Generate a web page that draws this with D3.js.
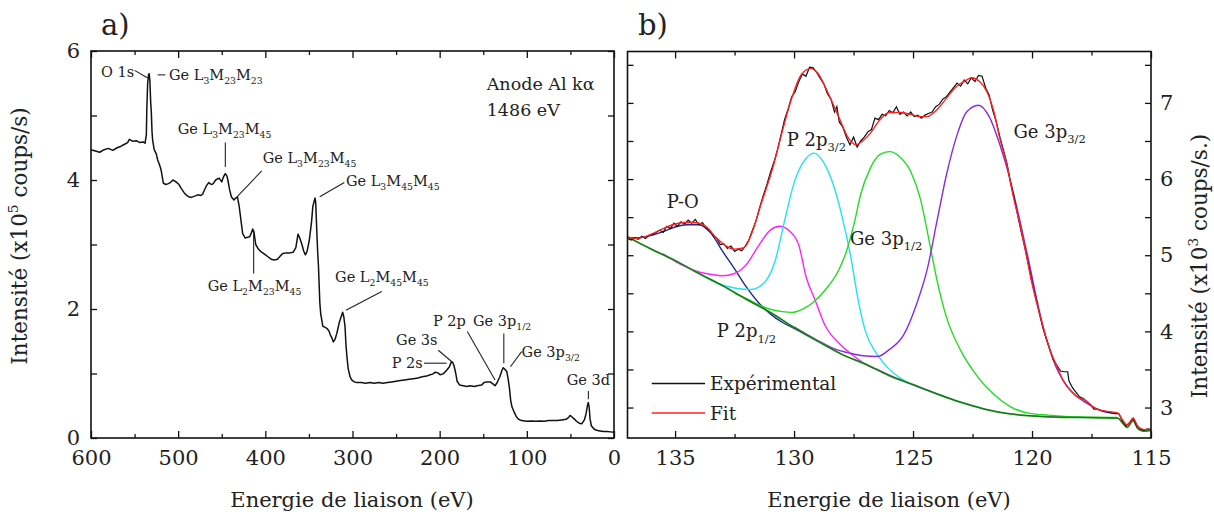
<!DOCTYPE html>
<html><head><meta charset="utf-8">
<script src="https://cdn.jsdelivr.net/npm/d3@7"></script>
<style>
body{margin:0;background:#fff}
svg{display:block}
text{font-family:"DejaVu Serif",serif;fill:#222;white-space:pre}
</style>
</head><body>
<svg id="c" width="1214" height="517"></svg>
<script>
// ---------- DATA: panel a (survey) ----------
const surveyXTicks = [600, 500, 400, 300, 200, 100, 0];
const surveyXMinor = [550, 450, 350, 250, 150, 50];
const surveyYTicks = [0, 2, 4, 6];
const surveyYMinor = [1, 3, 5];
const surveySpectrum = [[600,4.47],[595,4.45],[590,4.43],[585,4.47],[580,4.49],[575,4.46],[570,4.50],[566,4.52],[562,4.55],[558,4.58],[556,4.63],[552,4.60],[548,4.61],[544,4.58],[540,4.59],[538,4.57],[536.5,4.70],[536,5.09],[535,5.50],[534,5.63],[533.3,5.65],[532.5,5.55],[531.5,5.2],[530.8,5.05],[530,4.75],[529.3,4.62],[527.5,4.47],[525,4.40],[523.5,4.31],[521,4.22],[519.5,4.15],[517,3.95],[514,3.93],[512,3.94],[509,3.96],[506,4.00],[502.5,3.97],[499,3.93],[496.5,3.87],[493,3.80],[491,3.77],[488,3.74],[485,3.73],[481,3.75],[477.5,3.77],[474,3.76],[472,3.78],[468,3.90],[465,3.96],[462,3.93],[460,3.94],[457,4.00],[453,4.03],[450,3.97],[448,4.05],[446,4.10],[444,4.06],[443,4.00],[441,3.85],[439,3.74],[436,3.69],[434,3.72],[432,3.74],[430,3.59],[428,3.38],[426,3.17],[423,3.10],[421,3.11],[418,3.12],[416,3.18],[414.5,3.24],[413,3.19],[411,3.00],[408,2.93],[405,2.89],[401,2.85],[397,2.81],[393,2.77],[390,2.76],[386,2.77],[383,2.82],[380,2.86],[376,2.87],[372,2.87],[368,2.88],[365,2.95],[362.5,3.16],[360.5,3.10],[358,3.00],[356,2.90],[354,2.84],[352,2.90],[349.5,3.07],[347,3.35],[345.5,3.59],[343,3.72],[342.2,3.65],[341,3.22],[340,2.90],[339,2.65],[337.5,2.10],[336.5,1.93],[334,1.73],[332,1.72],[329.5,1.70],[327,1.66],[325.5,1.60],[323.5,1.55],[322,1.49],[320,1.53],[318,1.62],[315,1.80],[312.5,1.90],[311.3,1.95],[310,1.88],[308.6,1.73],[307.5,1.45],[306.5,1.28],[305,1.08],[303,0.96],[301,0.90],[298,0.87],[295,0.86],[290,0.86],[285,0.85],[280,0.86],[275,0.85],[270,0.86],[265,0.85],[260,0.86],[255,0.87],[250,0.88],[245,0.89],[240,0.90],[235,0.91],[230,0.92],[225,0.93],[220,0.95],[215,0.96],[211,0.98],[208,0.99],[205,1.02],[202,1.01],[199.5,0.98],[197,0.99],[195.5,1.00],[192,1.05],[189,1.10],[186.5,1.18],[185,1.17],[183.5,1.12],[181.5,1.0],[180,0.88],[177,0.82],[173,0.81],[169,0.80],[165,0.81],[160,0.80],[157,0.81],[152,0.82],[149,0.86],[146,0.87],[142,0.87],[139,0.84],[136.5,0.81],[134,0.86],[131,0.95],[128.5,1.05],[127,1.09],[125.5,1.07],[123,1.03],[121.5,0.92],[120,0.78],[118.5,0.58],[117,0.48],[114.5,0.40],[112,0.33],[109.5,0.29],[106,0.27],[100,0.26],[95,0.265],[90,0.26],[85,0.265],[80,0.26],[75,0.27],[70,0.27],[65,0.27],[60,0.28],[55,0.29],[52,0.32],[50.5,0.35],[48.5,0.33],[46,0.30],[43,0.26],[40,0.23],[37,0.22],[34,0.28],[32,0.38],[30.5,0.50],[29.5,0.55],[28.5,0.48],[27.5,0.30],[26,0.19],[23,0.14],[20,0.12],[16,0.11],[12,0.10],[8,0.10],[4,0.095],[0,0.09]];
const surveyLabels = [
  {t:"O 1s", at:[588.5,5.60], line:[[550,5.70],[535,5.58]]},
  {t:"Ge L_{3}M_{23}M_{23}", at:[510.5,5.55], line:[[523.5,5.63],[514.8,5.63]]},
  {t:"Ge L_{3}M_{23}M_{45}", at:[500.5,4.71], line:[[445.9,4.58],[445.9,4.20]]},
  {t:"Ge L_{3}M_{23}M_{45}", at:[403,4.26], line:[[404.2,4.14],[431.7,3.75]]},
  {t:"Ge L_{3}M_{45}M_{45}", at:[307.5,3.91], line:[[309.4,3.96],[337.6,3.74]]},
  {t:"Ge L_{2}M_{23}M_{45}", at:[466.1,2.28], line:[[413.4,3.22],[413.4,2.55]]},
  {t:"Ge L_{2}M_{45}M_{45}", at:[320,2.42], line:[[266.5,2.27],[307.5,1.98]]},
  {t:"Ge 3s", at:[250,1.44], line:[[201.6,1.36],[185,1.17]]},
  {t:"P 2s", at:[255,1.08], line:[[218,1.16],[192,1.16]]},
  {t:"P 2p", at:[207.7,1.73], line:[[168.3,1.65],[136.5,0.90]]},
  {t:"Ge 3p_{1/2}", at:[161.8,1.74], line:[[126.4,1.62],[126.4,1.16]]},
  {t:"Ge 3p_{3/2}", at:[106,1.26], line:[[106,1.34],[118.8,1.105]]},
  {t:"Ge 3d", at:[54.3,0.82], line:[[29.4,0.73],[29.4,0.60]]}
];
const anodeText = ["Anode Al k\u03b1", "1486 eV"];

// ---------- DATA: panel b (Ge 3p / P 2p region) ----------
const hrXTicks = [135, 130, 125, 120, 115];
const hrXMinor = [132.5, 127.5, 122.5, 117.5];
const hrYTicks = [3, 4, 5, 6, 7];
const hrYMinor = [3.5, 4.5, 5.5, 6.5, 7.5];
const experimental = [[137.00,5.22],[136.85,5.20],[136.70,5.23],[136.55,5.21],[136.40,5.25],[136.25,5.22],[136.10,5.26],[135.95,5.27],[135.80,5.30],[135.65,5.33],[135.50,5.30],[135.35,5.38],[135.20,5.35],[135.05,5.42],[134.90,5.38],[134.75,5.44],[134.60,5.41],[134.45,5.46],[134.30,5.42],[134.15,5.47],[134.00,5.40],[133.85,5.43],[133.70,5.36],[133.55,5.33],[133.40,5.26],[133.25,5.22],[133.10,5.14],[132.95,5.15],[132.80,5.09],[132.65,5.12],[132.50,5.05],[132.35,5.08],[132.20,5.06],[132.05,5.12],[131.90,5.20],[131.75,5.33],[131.60,5.45],[131.45,5.62],[131.30,5.78],[131.15,5.92],[131.00,6.08],[130.85,6.22],[130.70,6.38],[130.55,6.58],[130.40,6.78],[130.25,6.92],[130.10,7.08],[129.95,7.15],[129.80,7.28],[129.65,7.38],[129.50,7.35],[129.35,7.47],[129.20,7.46],[129.05,7.40],[128.90,7.32],[128.75,7.25],[128.60,7.12],[128.45,7.05],[128.30,6.88],[128.20,6.95],[128.10,6.75],[127.95,6.68],[127.80,6.55],[127.65,6.45],[127.50,6.55],[127.35,6.42],[127.20,6.50],[127.05,6.55],[126.90,6.62],[126.75,6.65],[126.60,6.80],[126.45,6.78],[126.30,6.85],[126.15,6.83],[126.00,6.90],[125.85,6.87],[125.70,6.95],[125.55,6.85],[125.40,6.88],[125.25,6.83],[125.10,6.88],[124.95,6.82],[124.80,6.84],[124.65,6.80],[124.50,6.84],[124.35,6.86],[124.20,6.88],[124.05,6.95],[123.90,6.98],[123.75,7.05],[123.60,7.08],[123.45,7.14],[123.30,7.20],[123.15,7.26],[123.00,7.22],[122.85,7.30],[122.70,7.25],[122.55,7.33],[122.40,7.28],[122.25,7.36],[122.10,7.35],[121.95,7.20],[121.80,7.10],[121.65,6.90],[121.50,6.75],[121.35,6.55],[121.20,6.38],[121.05,6.20],[120.90,5.95],[120.75,5.75],[120.60,5.52],[120.45,5.30],[120.30,5.10],[120.15,4.88],[120.00,4.65],[119.85,4.45],[119.70,4.25],[119.55,4.05],[119.40,3.90],[119.25,3.76],[119.10,3.62],[118.95,3.55],[118.80,3.48],[118.65,3.47],[118.50,3.47],[118.45,3.35],[118.30,3.26],[118.15,3.20],[118.00,3.14],[117.85,3.12],[117.70,3.08],[117.55,3.04],[117.40,2.98],[117.25,2.98],[117.10,2.96],[116.95,2.95],[116.80,2.94],[116.65,2.93],[116.50,2.92],[116.35,2.92],[116.20,2.82],[116.05,2.76],[115.90,2.80],[115.75,2.86],[115.60,2.76],[115.45,2.72],[115.30,2.70],[115.15,2.72],[115.00,2.71]];
const fit = [[137.0,5.24],[136.7,5.22],[136.3,5.24],[135.7,5.32],[135.1,5.40],[134.6,5.43],[134.2,5.43],[133.7,5.375],[133.3,5.24],[132.9,5.13],[132.5,5.08],[132.1,5.10],[131.8,5.27],[131.4,5.66],[130.9,6.14],[130.5,6.62],[130.1,7.06],[129.7,7.37],[129.3,7.45],[129.0,7.39],[128.6,7.15],[128.1,6.80],[127.7,6.53],[127.4,6.45],[127.2,6.48],[126.8,6.60],[126.4,6.775],[126.0,6.875],[125.55,6.875],[125.1,6.85],[124.7,6.82],[124.4,6.82],[124.0,6.91],[123.6,7.06],[123.2,7.21],[122.75,7.30],[122.55,7.33],[122.2,7.28],[121.9,7.15],[121.6,6.88],[121.35,6.53],[121.05,6.18],[120.8,5.79],[120.5,5.40],[120.25,5.02],[120.05,4.70],[119.8,4.37],[119.5,4.02],[119.25,3.76],[118.95,3.54],[118.7,3.36],[118.4,3.23],[118.0,3.12],[117.8,3.10],[117.35,2.99],[116.85,2.95],[116.4,2.93],[116.2,2.84],[116.0,2.77],[115.75,2.86],[115.55,2.75],[115.3,2.71],[115.0,2.72]];
const backgroundLine = [[137,5.24],[136,5.08],[135,4.93],[134,4.76],[133,4.60],[132,4.42],[131,4.25],[130,4.05],[129,3.87],[128,3.70],[127,3.57],[126,3.42],[125,3.30],[124,3.18],[123,3.07],[122,2.98],[121,2.92],[120,2.89],[119,2.875],[118,2.87],[117,2.865],[116.4,2.86],[116.2,2.80],[116.0,2.74],[115.75,2.83],[115.55,2.72],[115.3,2.69],[115,2.70]];
const compPO = [[137.0,5.23],[136.5,5.23],[136.0,5.26],[135.5,5.31],[135.0,5.37],[134.5,5.40],[134.0,5.40],[133.5,5.29],[133.0,5.05],[132.5,4.82],[132.0,4.58],[131.5,4.38],[131.0,4.23],[130.5,4.12],[130.0,4.04],[129.0,3.87]];
const compP2p12 = [[135.5,5.02],[135.0,4.92],[134.5,4.84],[134.0,4.78],[133.5,4.75],[133.0,4.73],[132.5,4.76],[132.0,4.88],[131.5,5.12],[131.0,5.33],[130.6,5.38],[130.2,5.32],[129.8,5.13],[129.5,4.72],[129.1,4.40],[128.7,4.08],[128.1,3.84],[127.5,3.68],[127.0,3.57],[126.5,3.50],[125.5,3.36],[124.5,3.24],[123.5,3.12]];
const compP2p32 = [[134.0,4.76],[133.2,4.63],[132.5,4.57],[131.8,4.55],[131.2,4.66],[130.8,4.92],[130.4,5.45],[130.0,5.95],[129.5,6.27],[129.15,6.34],[128.8,6.24],[128.4,5.97],[128.0,5.53],[127.6,4.95],[127.3,4.40],[127.0,4.00],[126.6,3.74],[126.2,3.57],[125.5,3.38],[125.0,3.30],[124.0,3.18],[123.0,3.07],[122.0,2.98]];
const compGe3p12 = [[132.5,4.50],[132.0,4.43],[131.5,4.35],[131.0,4.29],[130.5,4.26],[130.1,4.25],[129.6,4.30],[129.2,4.38],[128.7,4.54],[128.1,4.82],[127.8,5.05],[127.45,5.45],[127.2,5.80],[126.8,6.14],[126.4,6.32],[126.0,6.36],[125.55,6.29],[125.1,6.10],[124.7,5.75],[124.3,5.15],[124.0,4.68],[123.6,4.19],[123.0,3.75],[122.3,3.41],[121.6,3.17],[120.9,3.01],[120.2,2.93],[119.3,2.90],[118.5,2.88],[116.4,2.87]];
const compGe3p32 = [[130.0,4.06],[129.0,3.88],[128.3,3.77],[127.6,3.71],[127.1,3.68],[126.5,3.67],[126.0,3.76],[125.4,3.95],[124.85,4.36],[124.4,4.82],[124.0,5.44],[123.6,6.05],[123.15,6.58],[122.75,6.88],[122.25,6.97],[121.8,6.82],[121.35,6.45],[120.9,5.97],[120.5,5.44],[120.1,4.87],[119.8,4.42],[119.5,4.02],[119.25,3.76],[119.0,3.54],[118.7,3.36],[118.4,3.23],[118.0,3.12],[117.5,3.02],[117.0,2.95],[116.5,2.92]];
const hrLabels = [
  {t:"P-O", at:[135.35,5.62]},
  {t:"P 2p_{3/2}", at:[130.31,6.43]},
  {t:"Ge 3p_{1/2}", at:[127.65,5.135]},
  {t:"Ge 3p_{3/2}", at:[120.78,6.535]},
  {t:"P 2p_{1/2}", at:[133.25,3.92]}
];
const legendItems = [{t:"Exp\u00e9rimental", c:"#111111"}, {t:"Fit", c:"#ff2020"}];

// ---------- DRAWING ----------
const svg = d3.select("#c");
function richText(g, str, x, y, size, anchor) {
  const t = g.append("text").attr("x", x).attr("y", y).attr("font-size", size)
    .attr("text-anchor", anchor || "start");
  const parts = str.match(/_\{[^}]*\}|\^\{[^}]*\}|[^_^]+/g);
  let off = 0;
  parts.forEach(p => {
    let s = p, shift = 0, fs = size;
    if (p.startsWith("_{")) { s = p.slice(2, -1); shift = 0.28 * size; fs = 0.64 * size; }
    else if (p.startsWith("^{")) { s = p.slice(2, -1); shift = -0.42 * size; fs = 0.64 * size; }
    t.append("tspan").attr("dy", shift - off).attr("font-size", fs).text(s);
    off = shift;
  });
  return t;
}

function axes(g, x, y, xT, xM, yT, yM, yLabelSide, xFmt, yFmt) {
  const [x0, x1] = x.range(), [y0, y1] = y.range();
  g.append("g").attr("transform", `translate(0,${y0})`)
    .call(d3.axisBottom(x).tickValues(xM).tickSize(-4).tickFormat(""));
  g.append("g").attr("class","xlab").attr("transform", `translate(0,${y0})`)
    .call(d3.axisBottom(x).tickValues(xT).tickSize(-7).tickPadding(12).tickFormat(xFmt));
  g.append("g").attr("transform", `translate(0,${y1})`)
    .call(d3.axisTop(x).tickValues(xM).tickSize(-4).tickFormat(""));
  g.append("g").attr("transform", `translate(0,${y1})`)
    .call(d3.axisTop(x).tickValues(xT).tickSize(-7).tickFormat(""));
  const all = yT.concat(yM);
  g.append("g").attr("transform", `translate(${x0},0)`)
    .call(d3.axisLeft(y).tickValues(yLabelSide === "left" ? yT : all).tickSize(-6).tickPadding(11)
      .tickFormat(yLabelSide === "left" ? yFmt : ""));
  if (yLabelSide === "left") g.append("g").attr("transform", `translate(${x0},0)`)
    .call(d3.axisLeft(y).tickValues(yM).tickSize(-6).tickFormat(""));
  g.append("g").attr("transform", `translate(${x1},0)`)
    .call(d3.axisRight(y).tickValues(yLabelSide === "right" ? yT : all).tickSize(-6).tickPadding(9)
      .tickFormat(yLabelSide === "right" ? yFmt : ""));
  if (yLabelSide === "right") g.append("g").attr("transform", `translate(${x1},0)`)
    .call(d3.axisRight(y).tickValues(yM).tickSize(-6).tickFormat(""));
  g.selectAll(".domain").remove();
  g.selectAll(".tick line").attr("stroke", "#111").attr("stroke-width", 1.3);
  g.selectAll(".tick text").attr("font-family", "DejaVu Serif").attr("font-size", 21).attr("fill", "#222");
  g.append("rect").attr("x", x0).attr("y", y1).attr("width", x1 - x0).attr("height", y0 - y1)
    .attr("fill", "none").attr("stroke", "#111").attr("stroke-width", 1.6);
}

// ---- Panel a ----
const xA = d3.scaleLinear().domain([600, 0]).range([91, 614]);
const yA = d3.scaleLinear().domain([0, 6]).range([438, 51]);
const gA = svg.append("g");
const lineA = d3.line().x(d => xA(d[0])).y(d => yA(d[1]));
gA.append("path").datum(surveySpectrum).attr("d", lineA)
  .attr("fill", "none").attr("stroke", "#111").attr("stroke-width", 1.5).attr("stroke-linejoin", "round");
surveyLabels.forEach(l => {
  gA.append("line").attr("x1", xA(l.line[0][0])).attr("y1", yA(l.line[0][1]))
    .attr("x2", xA(l.line[1][0])).attr("y2", yA(l.line[1][1]))
    .attr("stroke", "#222").attr("stroke-width", 1.1);
  richText(gA, l.t, xA(l.at[0]), yA(l.at[1]), 14.5).attr("fill", "#333");
});
anodeText.forEach((t, i) => {
  gA.append("text").attr("x", xA(146)).attr("y", yA([5.40, 4.99][i])).attr("font-size", 17.5)
    .attr("fill", "#222").text(t);
});
axes(gA, xA, yA, surveyXTicks, surveyXMinor, surveyYTicks, surveyYMinor, "left", d3.format("d"), d3.format("d"));

// ---- Panel b ----
const xB = d3.scaleLinear().domain([137, 115]).range([627.5, 1151]);
const yB = d3.scaleLinear().domain([2.6, 7.675]).range([438, 51.5]);
const gB = svg.append("g");
svg.append("defs").append("clipPath").attr("id", "clipB").append("rect")
  .attr("x", 627.5).attr("y", 51.5).attr("width", 1151 - 627.5).attr("height", 438 - 51.5);
const lineB = d3.line().x(d => xB(d[0])).y(d => yB(d[1])).curve(d3.curveMonotoneX);
const lineBlin = d3.line().x(d => xB(d[0])).y(d => yB(d[1]));
const plotB = gB.append("g").attr("clip-path", "url(#clipB)");
const comps = [
  [compPO, "#1c2a94"], [compP2p12, "#ff22ff"], [compP2p32, "#1fe3ef"],
  [compGe3p12, "#22dd22"], [compGe3p32, "#8a2be2"]
];
comps.forEach(([d, c]) => plotB.append("path").datum(d).attr("d", lineB)
  .attr("fill", "none").attr("stroke", c).attr("stroke-width", 1.4));
plotB.append("path").datum(backgroundLine).attr("d", lineB)
  .attr("fill", "none").attr("stroke", "#22a022").attr("stroke-width", 1.8);
plotB.append("path").datum(backgroundLine).attr("d", lineB)
  .attr("fill", "none").attr("stroke", "#1d5e1d").attr("stroke-width", 0.8);
plotB.append("path").datum(experimental).attr("d", lineBlin)
  .attr("fill", "none").attr("stroke", "#111").attr("stroke-width", 1.2);
plotB.append("path").datum(fit).attr("d", lineB)
  .attr("fill", "none").attr("stroke", "#ff2020").attr("stroke-width", 1.4);
hrLabels.forEach(l => richText(gB, l.t, xB(l.at[0]), yB(l.at[1]), 18).attr("fill", "#333"));
legendItems.forEach((it, i) => {
  const y = 383.5 + i * 29.5;
  gB.append("line").attr("x1", 651.7).attr("x2", 705).attr("y1", y).attr("y2", y)
    .attr("stroke", it.c).attr("stroke-width", 1.5);
  gB.append("text").attr("x", 710).attr("y", y + 6.5).attr("font-size", 18.5).attr("fill", "#222").text(it.t);
});
axes(gB, xB, yB, hrXTicks, hrXMinor, hrYTicks, hrYMinor, "right", d3.format("d"), d3.format("d"));

// ---- titles ----
svg.append("text").attr("x", 101).attr("y", 35).attr("font-size", 29).text("a)");
svg.append("text").attr("x", 638).attr("y", 35).attr("font-size", 29).text("b)");
svg.append("text").attr("x", 352).attr("y", 507).attr("font-size", 21).attr("text-anchor", "middle").text("Energie de liaison (eV)");
svg.append("text").attr("x", 889).attr("y", 507).attr("font-size", 21).attr("text-anchor", "middle").text("Energie de liaison (eV)");
richText(svg, "Intensit\u00e9 (x10^{5} coups/s)", 0, 0, 21.5, "middle").attr("transform", "translate(27,236) rotate(-90)");
richText(svg, "Intensit\u00e9 (x10^{3} coups/s.)", 0, 0, 21.5, "middle").attr("transform", "translate(1207,266) rotate(-90)");
</script>
</body></html>
